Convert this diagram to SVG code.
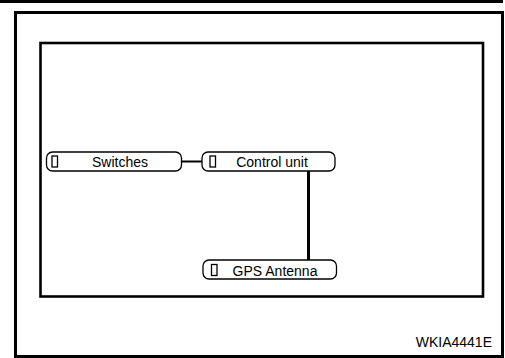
<svg xmlns="http://www.w3.org/2000/svg" width="505" height="358" viewBox="0 0 505 358">
<style>
.box{fill:#fff;stroke:#000;stroke-width:1.3}
.icon{fill:#fff;stroke:#000;stroke-width:1.3}
.lbl{font-family:"Liberation Sans",Arial,sans-serif;font-size:14px;fill:#000}
.conn{stroke:#000;fill:none}
</style>
<rect x="0" y="0" width="505" height="358" fill="#fff"/>
<rect x="0" y="0" width="503" height="3" fill="#000"/>
<rect x="15.5" y="12.5" width="487" height="344" fill="none" stroke="#000" stroke-width="3"/>
<rect x="40.5" y="43" width="442.5" height="253.5" fill="none" stroke="#000" stroke-width="2.6"/>
<g id="connectors">
<line class="conn" x1="182" y1="161.5" x2="202" y2="161.5" stroke-width="2"/>
<line class="conn" x1="308.5" y1="171" x2="308.5" y2="260" stroke-width="3"/>
</g>
<g id="switches">
<rect class="box" x="46.5" y="152" width="135" height="19" rx="6"/>
<rect class="icon" x="52" y="156" width="5.5" height="11"/>
<text class="lbl" x="120" y="167" text-anchor="middle">Switches</text>
</g>
<g id="control-unit">
<rect class="box" x="202" y="152" width="133" height="19" rx="6"/>
<rect class="icon" x="210" y="156" width="5.5" height="11"/>
<text class="lbl" x="272" y="167" text-anchor="middle">Control unit</text>
</g>
<g id="gps-antenna">
<rect class="box" x="203" y="260" width="133.5" height="19" rx="6"/>
<rect class="icon" x="211.5" y="264.5" width="5.5" height="11"/>
<text class="lbl" x="275" y="275.5" text-anchor="middle">GPS Antenna</text>
</g>
<text class="lbl" x="492" y="347" text-anchor="end">WKIA4441E</text>
</svg>
